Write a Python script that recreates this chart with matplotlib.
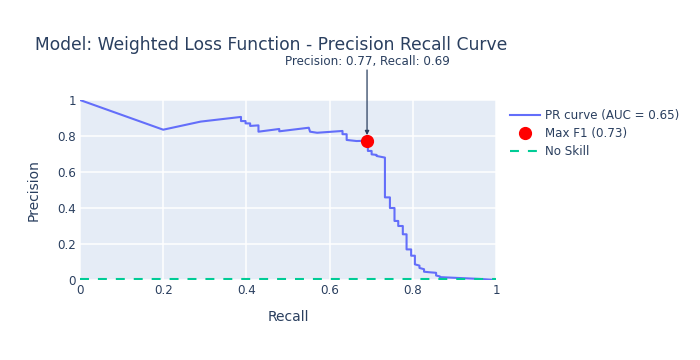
import matplotlib.pyplot as plt
import numpy as np

# PR curve vertices
recall = [0.0, 0.2, 0.29, 0.387, 0.387, 0.398, 0.398, 0.409, 0.409, 0.429, 0.429,
          0.479, 0.479, 0.55, 0.553, 0.57, 0.631, 0.631, 0.641, 0.641, 0.665,
          0.692, 0.692, 0.701, 0.701, 0.713, 0.713, 0.733, 0.733, 0.745, 0.745,
          0.756, 0.756, 0.765, 0.765, 0.776, 0.776, 0.785, 0.785, 0.796, 0.796,
          0.805, 0.805, 0.816, 0.816, 0.827, 0.827, 0.84, 0.856, 0.856, 0.865,
          0.865, 0.96, 1.0]
precision = [1.0, 0.835, 0.88, 0.906, 0.883, 0.883, 0.87, 0.87, 0.856, 0.859, 0.824,
             0.839, 0.826, 0.846, 0.824, 0.818, 0.828, 0.81, 0.81, 0.778, 0.772,
             0.774, 0.717, 0.717, 0.698, 0.695, 0.689, 0.68, 0.459, 0.459, 0.40,
             0.40, 0.328, 0.328, 0.30, 0.30, 0.254, 0.254, 0.17, 0.17, 0.135,
             0.135, 0.087, 0.08, 0.067, 0.06, 0.046, 0.043, 0.04, 0.025, 0.02,
             0.016, 0.006, 0.0]

best_recall = 0.69
best_precision = 0.774
auc = 0.65
max_f1 = 0.73
no_skill = 0.004

TEXT = "#2a3f5f"
plt.rcParams["font.family"] = ["DejaVu Sans"]

fig = plt.figure(figsize=(7, 3.6), dpi=100)
ax = fig.add_axes([80 / 700, 1 - 280 / 360, 416 / 700, 180 / 360])
ax.set_facecolor("#E5ECF6")
for s in ax.spines.values():
    s.set_visible(False)

ax.plot(recall, precision, color="#636efa", lw=1.5, label=f"PR curve (AUC = {auc})", zorder=3)
ax.plot([best_recall], [best_precision], "o", color="red", ms=8.5, zorder=4,
        label=f"Max F1 ({max_f1})")
ax.plot([0, 1], [no_skill, no_skill], color="#00cc96", lw=1.5, ls=(0, (4.3, 4.3)),
        label="No Skill", zorder=3)

ax.set_xlim(0, 1)
ax.set_ylim(0, 1)
ticks = [0, 0.2, 0.4, 0.6, 0.8, 1]
labels = ["0", "0.2", "0.4", "0.6", "0.8", "1"]
ax.set_xticks(ticks, labels)
ax.set_yticks(ticks, labels)
ax.tick_params(length=0, colors=TEXT, labelsize=8.6, pad=3)
ax.grid(color="white", lw=1.1, zorder=0)
ax.set_axisbelow(True)
ax.set_xlabel("Recall", color=TEXT, fontsize=10, labelpad=9)
ax.set_ylabel("Precision", color=TEXT, fontsize=10, labelpad=12)

ax.text(best_recall, (280 - 61) / 180, f"Precision: {best_precision:.2f}, Recall: {best_recall:.2f}",
        ha="center", va="center", color=TEXT, fontsize=8.6, clip_on=False)
ax.annotate("", xy=(best_recall, best_precision), xytext=(best_recall, (280 - 70) / 180),
            annotation_clip=False,
            arrowprops=dict(arrowstyle="-|>", color=TEXT, lw=0.9, shrinkA=0, shrinkB=4,
                            mutation_scale=6))

fig.text(35 / 700, 1 - 45 / 360, "Model: Weighted Loss Function - Precision Recall Curve",
         color=TEXT, fontsize=12.3, va="center", ha="left")

leg = ax.legend(loc="upper left", bbox_to_anchor=(1.022, 0.975), frameon=False,
                fontsize=8.6, handlelength=2.5, handletextpad=0.45,
                labelspacing=0.42, borderaxespad=0)
for t in leg.get_texts():
    t.set_color(TEXT)

fig.savefig("out.png", dpi=100)
